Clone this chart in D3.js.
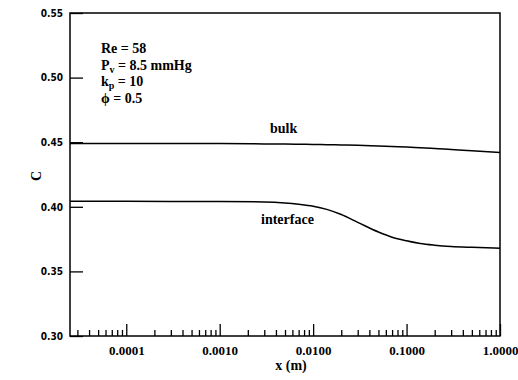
<!DOCTYPE html>
<html>
<head>
<meta charset="utf-8">
<script src="https://cdn.jsdelivr.net/npm/d3@7"></script>
<style>
  html, body { margin: 0; padding: 0; background: #fff; }
  svg { display: block; }
  .serif { font-family: "Liberation Serif", "Times New Roman", Times, serif; font-weight: bold; }
  .ylab { font-family: "DejaVu Sans Condensed", "DejaVu Sans", sans-serif; font-weight: bold; }
</style>
</head>
<body>
<script>
// Axial position along the channel (m) and concentration profiles
const xPositions = [2.5e-5, 1e-4, 1e-3, 3e-3, 5e-3, 7e-3, 0.01, 0.014, 0.02, 0.03, 0.05, 0.07, 0.1, 0.14, 0.2, 0.3, 0.5, 1.0];
const bulkC      = [0.4490, 0.4490, 0.4489, 0.4487, 0.4486, 0.4484, 0.4483, 0.4481, 0.4479, 0.4476, 0.4470, 0.4466, 0.4462, 0.4457, 0.4452, 0.4443, 0.4434, 0.4420];
const interfaceC = [0.4042, 0.4042, 0.4041, 0.4038, 0.4030, 0.4020, 0.4005, 0.3980, 0.3940, 0.3880, 0.3805, 0.3765, 0.3737, 0.3716, 0.3703, 0.3693, 0.3686, 0.3679];

const xMajorTicks = [1e-4, 1e-3, 1e-2, 1e-1, 1];
const yTicks = [0.30, 0.35, 0.40, 0.45, 0.50, 0.55];
const paramLines = [
  { main: "Re = 58", sub: null, rest: null },
  { main: "P", sub: "v", rest: " = 8.5 mmHg" },
  { main: "k", sub: "p", rest: " = 10" },
  { main: "\u03D5 = 0.5", sub: null, rest: null }
];

const W = 518, H = 380;
const m = { left: 70, right: 18, top: 13, bottom: 44 };
const pw = W - m.left - m.right, ph = H - m.top - m.bottom;

const svg = d3.select("body").append("svg").attr("width", W).attr("height", H);
const g = svg.append("g").attr("transform", `translate(${m.left},${m.top})`);

const x = d3.scaleLog().domain([2.5e-5, 1]).range([0, pw]);
const y = d3.scaleLinear().domain([0.30, 0.55]).range([ph, 0]);

// minor log ticks (2..9 in every decade inside the domain)
const xMinorTicks = [];
for (let e = -5; e <= -1; e++) {
  for (let k = 2; k <= 9; k++) {
    const v = k * Math.pow(10, e);
    if (v >= x.domain()[0] && v < 1) xMinorTicks.push(v);
  }
}

// minor ticks
g.append("g")
  .attr("transform", `translate(0,${ph})`)
  .call(d3.axisBottom(x).tickValues(xMinorTicks).tickSize(-6).tickFormat(""))
  .call(a => a.select(".domain").remove())
  .call(a => a.selectAll("line").attr("stroke", "#000").attr("stroke-width", 1.3));

// major ticks with labels
g.append("g")
  .attr("transform", `translate(0,${ph})`)
  .call(d3.axisBottom(x).tickValues(xMajorTicks).tickSize(-12).tickPadding(10).tickFormat(d3.format(".4f")))
  .call(a => a.select(".domain").remove())
  .call(a => a.selectAll("line").attr("stroke", "#000").attr("stroke-width", 1.3))
  .call(a => a.selectAll("text")
    .attr("class", "serif").attr("font-family", null)
    .attr("font-size", 13).attr("fill", "#000"));

// y axis, ticks pointing inward
g.append("g")
  .call(d3.axisLeft(y).tickValues(yTicks).tickSize(-13).tickPadding(7).tickFormat(d3.format(".2f")))
  .call(a => a.select(".domain").remove())
  .call(a => a.selectAll("line").attr("stroke", "#000").attr("stroke-width", 1.3))
  .call(a => a.selectAll("text")
    .attr("class", "ylab").attr("font-family", null)
    .attr("font-size", 10).attr("fill", "#000"));

// plot frame
g.append("rect")
  .attr("x", 0).attr("y", 0).attr("width", pw).attr("height", ph)
  .attr("fill", "none").attr("stroke", "#000").attr("stroke-width", 1.5);

// curves
const line = (vals) => d3.line()
  .x((d, i) => x(xPositions[i]))
  .y(d => y(d))
  .curve(d3.curveMonotoneX)(vals);

[bulkC, interfaceC].forEach(vals => {
  g.append("path")
    .attr("d", line(vals))
    .attr("fill", "none")
    .attr("stroke", "#000")
    .attr("stroke-width", 1.5);
});

// curve labels
g.append("text").attr("class", "serif").attr("font-size", 14)
  .attr("x", x(0.00345)).attr("y", y(0.4572))
  .text("bulk");
g.append("text").attr("class", "serif").attr("font-size", 14)
  .attr("x", x(0.00277)).attr("y", y(0.3865))
  .text("interface");

// parameter block
const pText = g.append("text").attr("class", "serif").attr("font-size", 14);
paramLines.forEach((p, i) => {
  pText.append("tspan").attr("x", 31).attr("y", 40 + i * 16.7).text(p.main);
  if (p.sub) {
    pText.append("tspan").attr("dy", 3).attr("font-size", 10).text(p.sub);
    pText.append("tspan").attr("dy", -3).text(p.rest);
  }
});

// axis titles
svg.append("text").attr("class", "serif").attr("font-size", 14)
  .attr("x", m.left + x(0.0058)).attr("y", 370)
  .attr("text-anchor", "middle")
  .text("x (m)");

svg.append("text").attr("class", "serif").attr("font-size", 14)
  .attr("transform", `translate(41,176) rotate(-90)`)
  .attr("text-anchor", "middle")
  .text("C");
</script>
</body>
</html>
